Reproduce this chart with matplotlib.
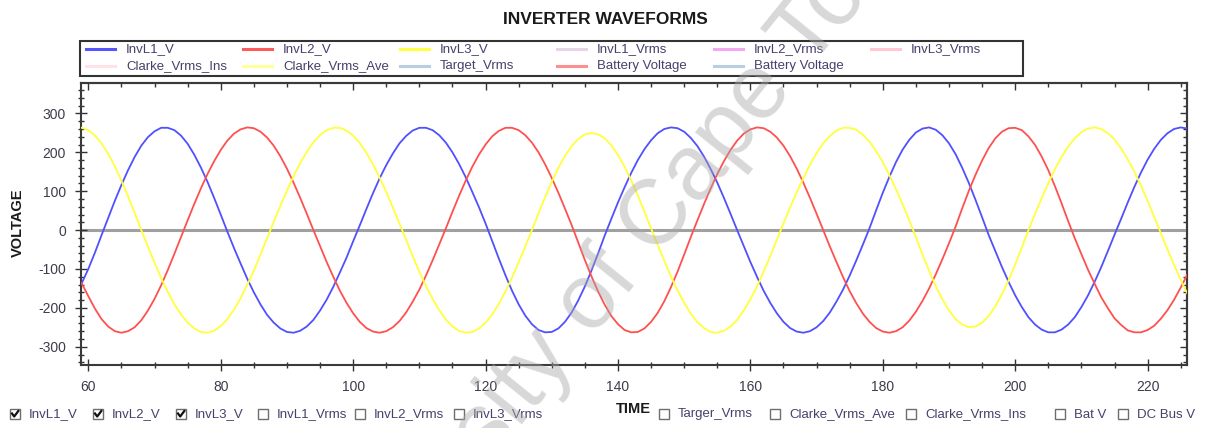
import matplotlib.pyplot as plt
from matplotlib.lines import Line2D
from matplotlib.patches import Rectangle
from matplotlib.ticker import MultipleLocator

plt.rcParams['font.family'] = ['Liberation Sans', 'DejaVu Sans']
plt.rcParams['axes.unicode_minus'] = False

W, H = 1205, 428

# sample times of the logged inverter output
time = [59, 60, 61, 62, 63, 64, 65, 66, 67, 68, 69, 70, 71, 72, 73, 74, 75, 76, 77, 78,
        79, 80, 81, 82, 83, 84, 85, 86, 87, 88, 89, 90, 91, 92, 93, 94, 95, 96, 97, 98,
        99, 100, 101, 102, 103, 104, 105, 106, 107, 108, 109, 110, 111, 112, 113, 114,
        115, 116, 117, 118, 119, 120, 121, 122, 123, 124, 125, 126, 127, 128, 129, 130,
        131, 132, 133, 134, 135, 136, 137, 138, 139, 140, 141, 142, 143, 144, 145, 146,
        147, 148, 149, 150, 151, 152, 153, 154, 155, 156, 157, 158, 159, 160, 161, 162,
        163, 164, 165, 166, 167, 168, 169, 170, 171, 172, 173, 174, 175, 176, 177, 178,
        179, 180, 181, 182, 183, 184, 185, 186, 187, 188, 189, 190, 191, 192, 193, 194,
        195, 196, 197, 198, 199, 200, 201, 202, 203, 204, 205, 206, 207, 208, 209, 210,
        211, 212, 213, 214, 215, 216, 217, 218, 219, 220, 221, 222, 223, 224, 225, 226, 227]

inv_l1_v = [-137, -100, -58, -13, 31, 75, 116, 154, 188, 217, 239, 254, 263, 263, 257, 243,
            222, 194, 161, 124, 83, 40, -4, -46, -86, -125, -160, -191, -218, -238, -253,
            -262, -264, -259, -248, -231, -207, -179, -146, -109, -71, -29, 12, 54, 95, 133,
            167, 197, 223, 242, 256, 263, 263, 257, 244, 225, 200, 170, 136, 98, 59, 17, -28,
            -73, -116, -156, -191, -220, -242, -257, -263, -262, -253, -236, -212, -181, -145,
            -104, -60, -14, 29, 71, 110, 147, 180, 208, 231, 249, 260, 264, 262, 253, 237, 216,
            189, 157, 122, 83, 42, 0, -41, -82, -120, -156, -187, -214, -236, -252, -261, -264,
            -260, -250, -234, -212, -184, -153, -117, -78, -37, 5, 51, 96, 137, 175, 207, 232,
            251, 261, 264, 258, 244, 223, 195, 160, 121, 78, 33, -13, -54, -95, -133, -168,
            -198, -224, -243, -256, -263, -263, -256, -243, -224, -198, -168, -133, -95, -54,
            -12, 29, 71, 111, 148, 181, 209, 232, 249, 260, 264, 261, 252]

inv_l2_v = [-137, -170, -202, -229, -248, -260, -264, -260, -250, -232, -207, -177, -142, -103,
            -61, -18, 25, 67, 107, 144, 177, 206, 230, 248, 259, 264, 262, 253, 238, 217, 190,
            158, 122, 83, 42, 0, -41, -82, -120, -156, -187, -214, -236, -252, -261, -264,
            -260, -250, -234, -212, -184, -153, -117, -78, -37, 4, 47, 88, 127, 163, 194, 220,
            241, 255, 263, 263, 257, 244, 225, 200, 169, 134, 96, 55, 13, -32, -77, -119, -158,
            -192, -221, -242, -257, -263, -262, -253, -236, -213, -183, -147, -107, -63, -18,
            25, 67, 107, 144, 177, 206, 230, 248, 259, 264, 262, 253, 238, 217, 190, 158, 122,
            83, 42, 0, -42, -82, -121, -157, -188, -215, -236, -252, -261, -264, -260, -250,
            -233, -210, -182, -150, -114, -75, -34, 9, 56, 101, 142, 179, 211, 236, 253, 262,
            263, 257, 241, 219, 189, 154, 113, 69, 23, -21, -62, -102, -138, -173, -201, -227,
            -244, -258, -263, -263, -257, -246, -228, -206, -179, -148, -114, -77]

inv_l3_v = [263, 257, 243, 223, 196, 164, 127, 87, 44, 0, -42, -84, -123, -159, -191, -217,
            -238, -253, -262, -264, -259, -247, -229, -205, -175, -141, -104, -63, -21, 21, 62,
            101, 139, 172, 201, 226, 244, 257, 263, 263, 256, 243, 224, 199, 169, 135, 98, 58,
            17, -25, -67, -107, -144, -177, -206, -230, -248, -259, -264, -262, -253, -238,
            -217, -190, -158, -122, -83, -42, 0, 43, 85, 124, 160, 191, 216, 234, 246, 250,
            246, 236, 218, 193, 163, 128, 89, 47, 4, -38, -79, -119, -155, -187, -215, -237,
            -252, -262, -264, -259, -248, -231, -207, -178, -145, -107, -67, -25, 17, 58, 97,
            134, 168, 198, 223, 242, 256, 263, 263, 258, 245, 227, 203, 175, 141, 105, 66, 25,
            -18, -63, -105, -144, -178, -207, -229, -243, -250, -248, -238, -221, -196, -165,
            -129, -88, -45, 0, 42, 82, 121, 157, 188, 215, 236, 252, 261, 264, 260, 249, 233,
            210, 182, 150, 114, 75, 34, -8, -50, -90, -128, -163, -194]

legend_labels = ['InvL1_V', 'InvL2_V', 'InvL3_V', 'InvL1_Vrms', 'InvL2_Vrms', 'InvL3_Vrms',
                 'Clarke_Vrms_Ins', 'Clarke_Vrms_Ave', 'Target_Vrms', 'Battery Voltage',
                 'Battery Voltage']
legend_colors = ['#5555ff', '#ff5a5a', '#ffff44', '#e8d4e8', '#f4a8f0', '#ffc8d2',
                 '#ffe2e8', '#ffff9c', '#b8cfe2', '#ff8e8e', '#b8cfe2']

check_labels = ['InvL1_V', 'InvL2_V', 'InvL3_V', 'InvL1_Vrms', 'InvL2_Vrms', 'InvL3_Vrms',
                'Targer_Vrms', 'Clarke_Vrms_Ave', 'Clarke_Vrms_Ins', 'Bat V', 'DC Bus V']
check_state = [True, True, True, False, False, False, False, False, False, False, False]
check_x = [10, 93, 176, 258, 355, 454, 659, 770, 906, 1055, 1118]


def fx(px):
    return px / W


def fy(py):
    return 1 - py / H


fig = plt.figure(figsize=(W / 100, H / 100), dpi=100)
ax = fig.add_axes([fx(80.7), fy(365), (1187 - 80.7) / W, (365 - 82.7) / H])

ax.axhline(0, color='#a0a0a0', lw=2.2, zorder=1)
ax.plot(time, inv_l1_v, color='#5050ff', lw=1.3, zorder=3)
ax.plot(time, inv_l2_v, color='#ff5050', lw=1.3, zorder=3)
ax.plot(time, inv_l3_v, color='#ffff3c', lw=1.3, zorder=3)

ax.set_xlim(58.85, 225.95)
ax.set_ylim(-347, 379)
ax.xaxis.set_major_locator(MultipleLocator(20))
ax.xaxis.set_minor_locator(MultipleLocator(5))
ax.yaxis.set_major_locator(MultipleLocator(100))
ax.yaxis.set_minor_locator(MultipleLocator(20))
ax.tick_params(which='both', direction='inout', color='#333333', width=1,
               labelsize=10, labelcolor='#3c3c4c')
ax.tick_params(which='major', length=8)
ax.tick_params(which='minor', length=4)
ax.tick_params(axis='y', pad=6.5)
ax.tick_params(axis='x', pad=6.5)
for s in ax.spines.values():
    s.set_color('#3a3a3a')
    s.set_linewidth(1.5)

# inward ticks along the top and right edges
top = ax.secondary_xaxis('top')
top.xaxis.set_major_locator(MultipleLocator(20))
top.xaxis.set_minor_locator(MultipleLocator(5))
top.tick_params(which='both', direction='in', color='#333333', width=1, labeltop=False)
top.tick_params(which='major', length=5)
top.tick_params(which='minor', length=3)
right = ax.secondary_yaxis('right')
right.yaxis.set_major_locator(MultipleLocator(100))
right.yaxis.set_minor_locator(MultipleLocator(20))
right.tick_params(which='both', direction='in', color='#333333', width=1, labelright=False)
right.tick_params(which='major', length=5)
right.tick_params(which='minor', length=3)
for sec in (top, right):
    for s in sec.spines.values():
        s.set_color('#3a3a3a')
        s.set_linewidth(1.5)

fig.text(fx(605), fy(20), 'INVERTER WAVEFORMS', ha='center', va='center',
         fontsize=12.5, fontweight='bold', color='#1a1a1a')
fig.text(fx(18), fy(223), 'VOLTAGE', rotation=90, ha='center', va='center',
         fontsize=10.5, fontweight='bold', color='#1a1a1a')
fig.text(fx(633), fy(409), 'TIME', ha='center', va='center',
         fontsize=10.5, fontweight='bold', color='#1a1a1a')

# series legend, two rows of six columns
fig.add_artist(Rectangle((fx(80), fy(76)), (1023 - 80) / W, 35 / H, transform=fig.transFigure,
                         facecolor='white', edgecolor='#333333', lw=1.5, zorder=4))
for i, (lab, col) in enumerate(zip(legend_labels, legend_colors)):
    row, c = divmod(i, 6)
    y = 49 + 17 * row
    x0 = 86 + 157 * c
    fig.add_artist(Line2D([fx(x0), fx(x0 + 29)], [fy(y), fy(y)], transform=fig.transFigure,
                          color=col, lw=2.2, zorder=5))
    fig.text(fx(x0 + 40), fy(y), lab, ha='left', va='center', fontsize=9.5,
             color='#4a3f6b', zorder=5)

# channel check boxes under the plot
for lab, on, x in zip(check_labels, check_state, check_x):
    fig.add_artist(Rectangle((fx(x), fy(419)), 10 / W, 10 / H, transform=fig.transFigure,
                             facecolor='white', edgecolor='#6e6e6e', lw=1.0))
    if on:
        fig.add_artist(Line2D([fx(x + 2), fx(x + 4.2), fx(x + 8.3)],
                              [fy(413.5), fy(416.5), fy(411)], transform=fig.transFigure,
                              color='#111111', lw=1.6))
    fig.text(fx(x + 19), fy(414.5), lab, ha='left', va='center', fontsize=9.5, color='#4a3f6b')

fig.text(fx(615), fy(272), 'University of Cape Town', rotation=51, ha='center', va='center',
         rotation_mode='anchor', fontsize=66, color='#a8a8a8', alpha=0.45, zorder=10)

fig.savefig('out.png', dpi=100)
